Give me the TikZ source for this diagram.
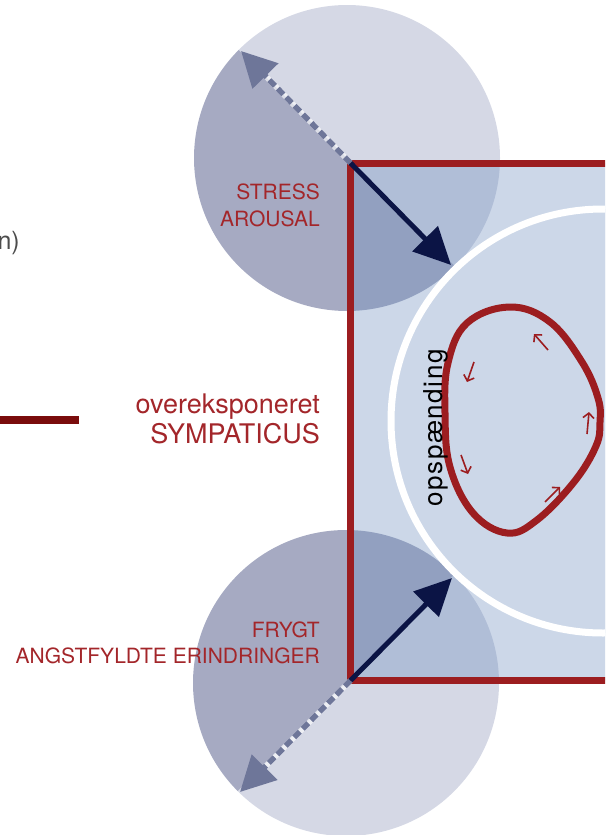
\documentclass[tikz,border=0pt]{standalone}
\usepackage{fontspec}
\setmainfont{TeX Gyre Heros}
\usepackage{tikz}
\usetikzlibrary{arrows.meta}
\definecolor{mydark}{HTML}{A6AAC2}
\definecolor{mylight}{HTML}{D5D8E5}
\definecolor{myblue}{HTML}{7190BF}
\definecolor{mypale}{HTML}{CCD7E8}
\definecolor{myred}{HTML}{9C1D20}
\definecolor{mytextred}{HTML}{A3262A}
\definecolor{mydarkred}{HTML}{7A0C0C}
\definecolor{mynavy}{HTML}{0B1445}
\definecolor{mygrayblue}{HTML}{6E7699}
\tikzset{
	halfdark/.style={
			fill=mydark
		},
	halflight/.style={
			fill=mylight
		},
	redtext/.style={
			text=mytextred,
			inner sep=0pt,
			anchor=base east,
			font=\fontsize{21}{24}\selectfont
		},
	bigtext/.style={
			redtext,
			font=\fontsize{27}{30}\selectfont
		},
	solidarrow/.style={
			draw=mynavy,
			line width=5pt,
			-{Triangle[length=37pt,width=35pt]}
		},
	dasharrow/.style={
			draw=mygrayblue,
			line width=5.5pt,
			dash pattern=on 8pt off 4pt,
			-{Triangle[length=35pt,width=35pt]}
		},
	dashunder/.style={
			draw=white,
			draw opacity=0.6,
			line width=5.5pt,
			shorten >=30pt
		},
	looparrow/.style={
			draw=myred,
			line width=1.6pt,
			-{Straight Barb[length=5pt,width=11pt]}
		}
}

\begin{document}
\begin{tikzpicture}[x=1pt,y=1pt]
  \useasboundingbox (0,0) rectangle (605,-835);
  \clip (0,0) rectangle (605,-835);

  \coordinate (topcorner) at (350.5,-163);
  \coordinate (botcorner) at (350.5,-680.5);
  \coordinate (toptip) at (451,-265);
  \coordinate (topback) at (241,-51);
  \coordinate (bottip) at (452,-578);
  \coordinate (botback) at (240,-792);

  % the two split circles
  \fill[halfdark] (347,-158) -- ++(135:153) arc[start angle=135,end angle=315,radius=153] -- cycle;
  \fill[halflight] (347,-158) -- ++(315:153) arc[start angle=315,end angle=495,radius=153] -- cycle;
  \fill[halfdark] (346,-683) -- ++(45:153) arc[start angle=45,end angle=225,radius=153] -- cycle;
  \fill[halflight] (346,-683) -- ++(225:153) arc[start angle=225,end angle=405,radius=153] -- cycle;

  % box and inner circle
  \fill[myblue, fill opacity=0.36] (topcorner) rectangle (640,-680.5);
  \path[fill=mypale, draw=white, line width=7pt] (603,-421) circle[radius=212];
  \draw[myred, line width=7pt] (640,-163) -- (topcorner) -- (botcorner) -- (640,-680.5);

  % loop
  \draw[myred, line width=7pt] plot[smooth cycle, tension=0.65] coordinates {
    (510,-307) (550,-322) (582,-362) (598,-398) (600,-422) (596,-446) (574,-482) (537,-520)
    (507,-533) (473,-513) (450,-467) (445,-413) (448,-363) (467,-323)};
  \draw[looparrow] (474,-362) -- (467,-382);
  \draw[looparrow] (461,-455) -- (468,-474);
  \draw[looparrow] (545,-502) -- (560,-487);
  \draw[looparrow] (587,-434) -- (589,-412);
  \draw[looparrow] (548,-350) -- (534,-334);
  \node[rotate=90, inner sep=0pt, font=\fontsize{26}{30}\selectfont\addfontfeature{LetterSpace=6}] (opsp) at (435.5,-428) {opspænding};

  % arrows
  \draw[dashunder] (topcorner) -- (topback);
  \draw[dasharrow] (topcorner) -- (topback);
  \draw[solidarrow] (topcorner) -- (toptip);
  \draw[dashunder] (botcorner) -- (botback);
  \draw[dasharrow] (botcorner) -- (botback);
  \draw[solidarrow] (botcorner) -- (bottip);

  % labels
  \node[redtext] (stress) at (320,-199) {STRESS};
  \node[redtext] (arousal) at (320,-226) {AROUSAL};
  \node[bigtext] (overeks) at (320,-413) {overeksponeret};
  \node[bigtext] (sympat) at (320,-443) {SYMPATICUS};
  \node[redtext] (frygt) at (320,-637) {FRYGT};
  \node[redtext] (angst) at (320,-663) {ANGSTFYLDTE ERINDRINGER};

  % cut off parts on the left
  \node[text=black!70, inner sep=0pt, anchor=base east, font=\fontsize{25}{30}\selectfont] (cut) at (20,-249) {n)};
  \coordinate (lineleft) at (-5,-420);
  \coordinate (lineright) at (79,-420);
  \draw[mydarkred, line width=8pt] (lineleft) -- (lineright);

\end{tikzpicture}
\end{document}
